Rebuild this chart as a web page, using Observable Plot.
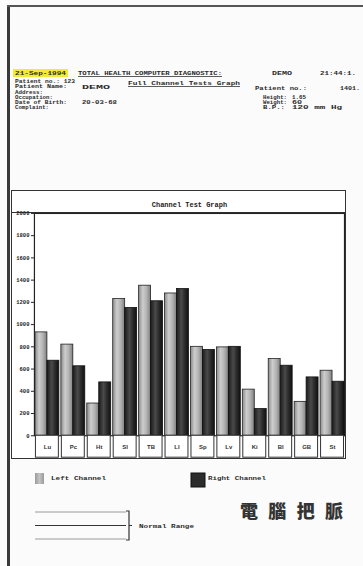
<!DOCTYPE html>
<html><head><meta charset="utf-8">
<script src="https://cdn.jsdelivr.net/npm/d3@7"></script>
<script src="https://cdn.jsdelivr.net/npm/@observablehq/plot@0.6"></script>
<style>
html,body{margin:0;padding:0;background:#fbfbfb;}
#page{position:relative;width:363px;height:566px;overflow:hidden;background:#fbfbfb;}
#borderLeft{position:absolute;left:7px;top:5px;width:3px;height:561px;background:#3a3a3a;}
#borderTop{position:absolute;left:7px;top:5px;width:356px;height:2px;background:#555;}
#box{position:absolute;left:11px;top:190px;width:333px;height:267px;border:1px solid #333;background:#fff;}
#titlebar{position:absolute;left:0;top:0;width:333px;height:21px;border-bottom:1px solid #333;}
#chart{position:absolute;left:0px;top:0px;}
svg.overlay{position:absolute;left:0;top:0;}
</style></head><body><div id="page">
<div id="borderLeft"></div><div id="borderTop"></div>
<div id="box"><div id="titlebar"></div><div id="chart"></div></div>
</div>
<script>
const channels = ["Lu", "Pc", "Ht", "SI", "TB", "LI", "Sp", "Lv", "Ki", "Bl", "GB", "St"];
const leftValues = [930, 820, 290, 1230, 1350, 1280, 800, 795, 415, 690, 305, 585];
const rightValues = [675, 625, 480, 1150, 1210, 1320, 772, 800, 240, 630, 525, 486];
const yTicks = [0, 200, 400, 600, 800, 1000, 1200, 1400, 1600, 1800, 2000];
const chartTitle = "Channel Test Graph";
const seriesNames = ["Left Channel", "Right Channel"];

const data = channels.map((ch, i) => ({ch, left: leftValues[i], right: rightValues[i]}));

const chart = Plot.plot({
  width: 334, height: 269,
  marginLeft: 22, marginRight: 1, marginTop: 22, marginBottom: 24,
  style: {background: "transparent", fontFamily: "Liberation Mono", fontSize: "5.5px", fontWeight: "bold", color: "#222"},
  x: {domain: channels, paddingInner: 0.08, paddingOuter: 0.02, axis: null},
  y: {domain: [0, 2000], ticks: yTicks, tickSize: 3, tickPadding: 2, tickFormat: d => String(d), label: null},
  marks: [
    Plot.frame({stroke: "#222", strokeWidth: 1.2}),
    Plot.barY(data, {x: "ch", y: "left", fill: "url(#gradL)", stroke: "#222", strokeWidth: 0.8, insetRight: 12}),
    Plot.barY(data, {x: "ch", y: "right", fill: "url(#gradR)", stroke: "#111", strokeWidth: 0.8, insetLeft: 12}),
    Plot.barY(data, {x: "ch", y1: 0, y2: 0, fill: "white", stroke: "#333", strokeWidth: 1, insetBottom: -22, insetLeft: 0.5, insetRight: 0.5}),
    Plot.text(data, {x: "ch", y: 0, text: "ch", dy: 11, fontSize: 6, fontWeight: "bold", fontFamily: "Liberation Sans", fill: "#333"}),
    Plot.text([chartTitle], {frameAnchor: "top", dy: -11, text: d => d, fontSize: 7, fontWeight: "bold", fontFamily: "Liberation Mono", fill: "#222"})
  ]
});
const defs = d3.select(chart).insert("defs", ":first-child");
const gL = defs.append("linearGradient").attr("id", "gradL").attr("x1", "0").attr("x2", "1").attr("y1", "0").attr("y2", "0");
[[0, "#8a8a8a"], [0.35, "#cdcdcd"], [0.65, "#b4b4b4"], [1, "#808080"]].forEach(([o, c]) => gL.append("stop").attr("offset", o).attr("stop-color", c));
const gR = defs.append("linearGradient").attr("id", "gradR").attr("x1", "0").attr("x2", "1").attr("y1", "0").attr("y2", "0");
[[0, "#1c1c1c"], [0.4, "#4a4a4a"], [0.7, "#2a2a2a"], [1, "#111"]].forEach(([o, c]) => gR.append("stop").attr("offset", o).attr("stop-color", c));
document.getElementById("chart").appendChild(chart);

// Header and legend overlay
const ov = d3.select("#page").append("svg").attr("class", "overlay").attr("width", 363).attr("height", 566);
ov.append("rect").attr("x", 13).attr("y", 69).attr("width", 55).attr("height", 8).attr("fill", "#f3ea38");
function txt(s, x, y, len, size = 6, opts = {}) {
  const t = ov.append("text").attr("x", x).attr("y", y).text(s)
    .attr("font-family", opts.family || "Liberation Mono").attr("font-weight", "bold")
    .attr("font-size", size).attr("fill", opts.fill || "#2a2a2a");
  if (len) t.attr("textLength", len).attr("lengthAdjust", "spacingAndGlyphs");
  if (opts.underline) ov.append("line").attr("x1", x).attr("x2", x + len).attr("y1", y + 1.5).attr("y2", y + 1.5).attr("stroke", "#333").attr("stroke-width", 0.8);
  return t;
}
txt("21-Sep-1994", 15, 75, 51, 6);
txt("TOTAL HEALTH COMPUTER DIAGNOSTIC:", 78, 75, 144, 6, {underline: true});
txt("DEMO", 272, 75, 20, 6);
txt("21:44:1.", 320, 75, 36, 6);
txt("Patient no.: 123", 15, 82.5, 60, 4.5);
txt("Full Channel Tests Graph", 128, 85, 112, 6, {underline: true});
txt("Patient Name:", 15, 88, 52, 4.5);
txt("DEMO", 82, 89, 28, 5);
txt("Patient no.:", 255, 90, 52, 6);
txt("1401.", 340, 90, 20, 6);
txt("Address:", 15, 93.5, 28, 4.5);
txt("Occupation:", 15, 99, 38, 4.5);
txt("Date of Birth:", 15, 104, 52, 4.5);
txt("20-03-68", 82, 104, 35, 4.5);
txt("Complaint:", 15, 109, 34, 4.5);
txt("Height:", 263, 99, 24, 4.5);
txt("1.65", 292, 99, 14, 4.5);
txt("Weight:", 263, 104, 24, 4.5);
txt("60", 292, 104, 10, 4.5);
txt("B.P.:", 263, 109, 22, 4.5);
txt("120 mm Hg", 292, 109, 50, 4.5);

// legend
const lg = ov.append("defs");
const g1 = lg.append("linearGradient").attr("id", "gradLeg");
[[0, "#9a9a9a"], [0.5, "#c4c4c4"], [1, "#9a9a9a"]].forEach(([o, c]) => g1.append("stop").attr("offset", o).attr("stop-color", c));
ov.append("rect").attr("x", 35).attr("y", 473).attr("width", 9).attr("height", 11).attr("fill", "url(#gradLeg)");
ov.append("rect").attr("x", 191).attr("y", 473).attr("width", 14).attr("height", 14).attr("fill", "#2c2c2c").attr("stroke", "#111");
txt(seriesNames[0], 51, 480, 55, 5.5);
txt(seriesNames[1], 208, 480, 58, 5.5);
ov.append("line").attr("x1", 35).attr("x2", 126).attr("y1", 512).attr("y2", 512).attr("stroke", "#9a9a9a").attr("stroke-width", 1);
ov.append("line").attr("x1", 35).attr("x2", 126).attr("y1", 525.5).attr("y2", 525.5).attr("stroke", "#333").attr("stroke-width", 1.2);
ov.append("line").attr("x1", 35).attr("x2", 126).attr("y1", 539).attr("y2", 539).attr("stroke", "#9a9a9a").attr("stroke-width", 1);
ov.append("path").attr("d", "M126,511 H129 V525.5 H132 M129,525.5 V540 H126").attr("fill", "none").attr("stroke", "#333").attr("stroke-width", 1.2);
txt("Normal Range", 139, 528, 55, 5.5);
ov.append("text").attr("x", 240).attr("y", 518).text("電腦把脈")
  .attr("font-family", "Noto Sans CJK TC").attr("font-weight", 900).attr("font-size", 18)
  .attr("fill", "#333").attr("textLength", 103).attr("lengthAdjust", "spacing");
</script>
</body></html>
